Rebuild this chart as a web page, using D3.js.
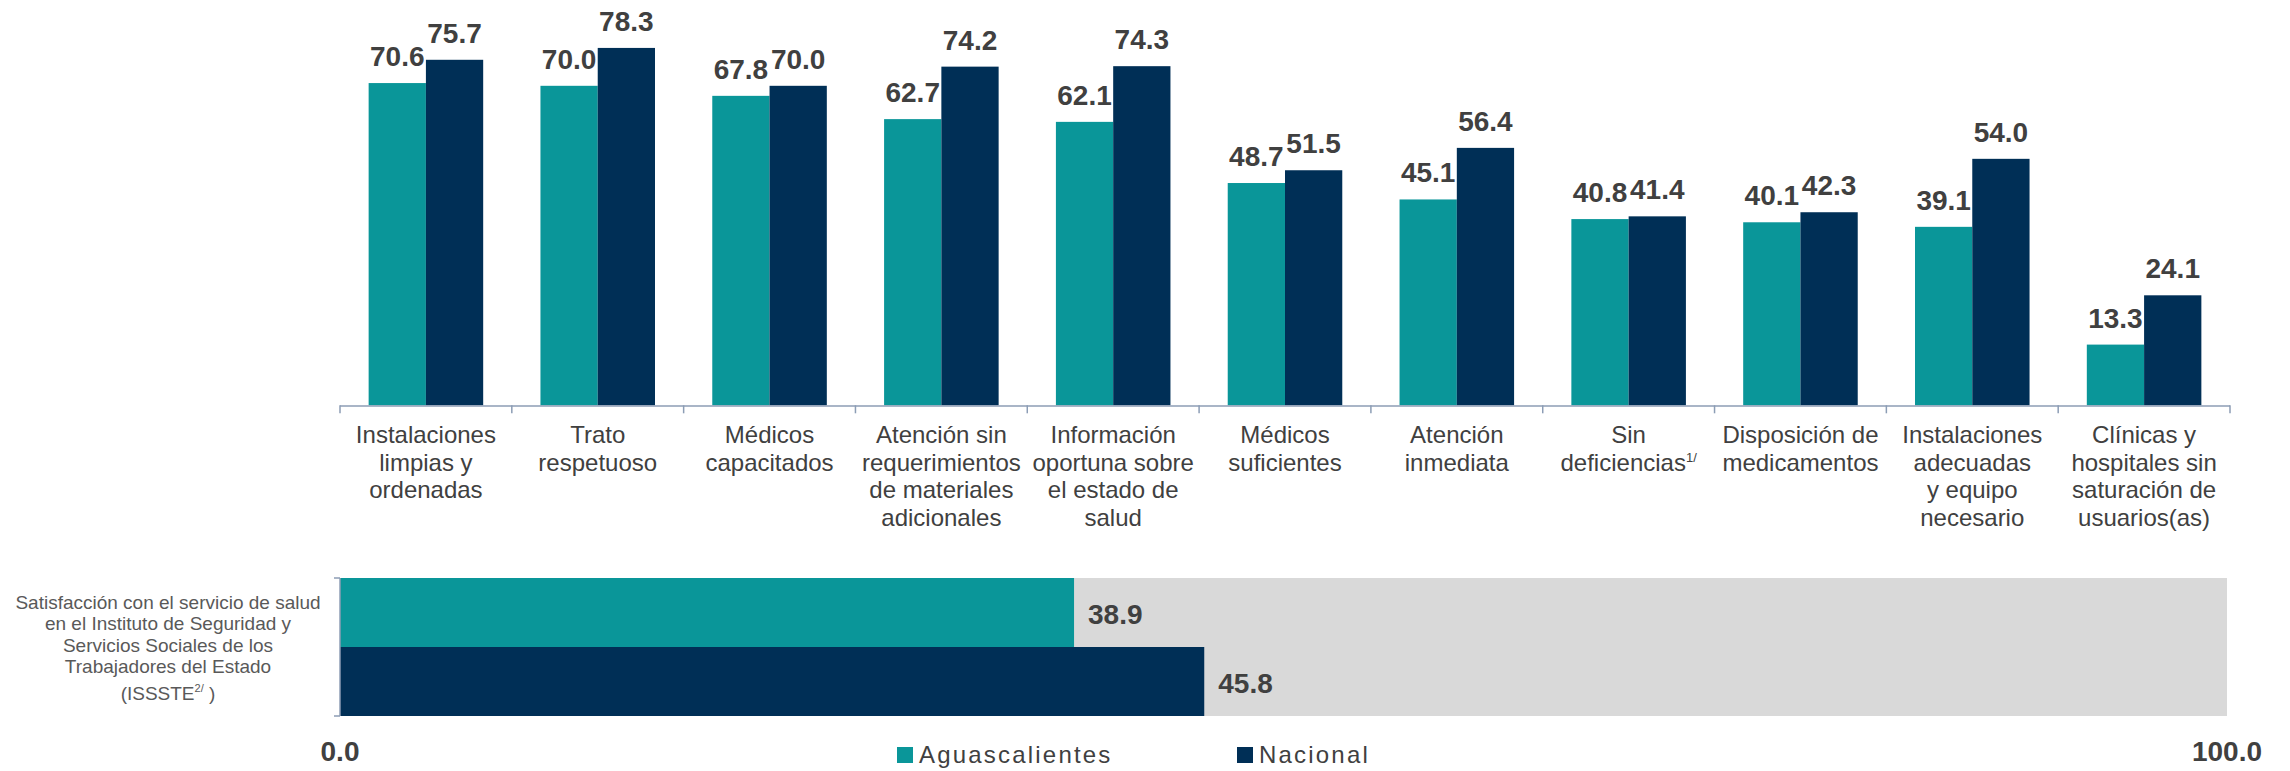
<!DOCTYPE html>
<html>
<head>
<meta charset="utf-8">
<script src="https://cdn.jsdelivr.net/npm/d3@7"></script>
<style>
  body { margin: 0; background: #fff; }
  text { font-family: "Liberation Sans", Arial, sans-serif; }
</style>
</head>
<body>
<svg id="chart" width="2290" height="771"></svg>
<script>
// Data
var categories = [
  ["Instalaciones", "limpias y", "ordenadas"],
  ["Trato", "respetuoso"],
  ["Médicos", "capacitados"],
  ["Atención sin", "requerimientos", "de materiales", "adicionales"],
  ["Información", "oportuna sobre", "el estado de", "salud"],
  ["Médicos", "suficientes"],
  ["Atención", "inmediata"],
  ["Sin", "deficiencias"],
  ["Disposición de", "medicamentos"],
  ["Instalaciones", "adecuadas", "y equipo", "necesario"],
  ["Clínicas y", "hospitales sin", "saturación de", "usuarios(as)"]
];
var series = ["Aguascalientes", "Nacional"];
var aguascalientes = [70.6, 70.0, 67.8, 62.7, 62.1, 48.7, 45.1, 40.8, 40.1, 39.1, 13.3];
var nacional       = [75.7, 78.3, 70.0, 74.2, 74.3, 51.5, 56.4, 41.4, 42.3, 54.0, 24.1];
var issteLabel = ["Satisfacción con el servicio de salud", "en el Instituto de Seguridad y",
                  "Servicios Sociales de los", "Trabajadores del Estado", "(ISSSTE"];
var issteValues = [38.9, 45.8];
var axisTicks = [0, 100];

var colors = { "Aguascalientes": "#0a9699", "Nacional": "#002f56" };
var textColor = "#404040";
var axisColor = "#8c9db5";

var svg = d3.select("#chart");

// ---- Top grouped bar chart ----
var idx = d3.range(categories.length);
var x0 = d3.scaleBand().domain(idx).range([340, 2230]).paddingInner(0).paddingOuter(0);
var x1 = d3.scaleBand().domain(series).range([0, x0.bandwidth()]).paddingInner(0).paddingOuter(0.5);
var y = d3.scaleLinear().domain([0, 88.8]).range([405.3, 0]);

var rows = idx.map(function(i) {
  return { i: i, values: [
    { s: "Aguascalientes", v: aguascalientes[i] },
    { s: "Nacional", v: nacional[i] }
  ]};
});

var groups = svg.append("g")
  .selectAll("g")
  .data(rows)
  .enter()
  .append("g")
    .attr("transform", function(d) { return "translate(" + x0(d.i) + ",0)"; });

groups.selectAll("rect")
  .data(function(d) { return d.values; })
  .enter()
  .append("rect")
    .attr("x", function(d) { return x1(d.s); })
    .attr("y", function(d) { return y(d.v); })
    .attr("width", x1.bandwidth())
    .attr("height", function(d) { return y(0) - y(d.v); })
    .attr("fill", function(d) { return colors[d.s]; });

groups.selectAll("text.val")
  .data(function(d) { return d.values; })
  .enter()
  .append("text")
    .attr("class", "val")
    .attr("x", function(d) { return x1(d.s) + x1.bandwidth() / 2; })
    .attr("y", function(d) { return y(d.v) - 17; })
    .attr("text-anchor", "middle")
    .style("font-size", "28px")
    .style("font-weight", "bold")
    .style("fill", textColor)
    .text(function(d) { return d.v.toFixed(1); });

// category axis
var xAxis = svg.append("g");
xAxis.append("line")
  .attr("x1", 340).attr("x2", 2230)
  .attr("y1", y(0) + 0.7).attr("y2", y(0) + 0.7)
  .attr("stroke", axisColor).attr("stroke-width", 1.5);
xAxis.selectAll("line.tick")
  .data(d3.range(categories.length + 1))
  .enter()
  .append("line")
    .attr("class", "tick")
    .attr("x1", function(d) { return 340 + d * x0.step(); })
    .attr("x2", function(d) { return 340 + d * x0.step(); })
    .attr("y1", y(0)).attr("y2", y(0) + 8)
    .attr("stroke", axisColor).attr("stroke-width", 1.5);

var catLabels = svg.append("g")
  .selectAll("text")
  .data(rows)
  .enter()
  .append("text")
    .attr("x", function(d) { return x0(d.i) + x0.bandwidth() / 2; })
    .attr("y", 443.3)
    .attr("text-anchor", "middle")
    .style("font-size", "24px")
    .style("fill", textColor);

catLabels.each(function(d) {
  var t = d3.select(this);
  categories[d.i].forEach(function(line, k) {
    t.append("tspan")
      .attr("x", x0(d.i) + x0.bandwidth() / 2)
      .attr("y", 443.3 + k * 27.5)
      .text(line);
  });
  if (d.i === 7) {
    t.select("tspan:last-child").append("tspan")
      .attr("dy", -9).style("font-size", "13px").text("1/");
  }
});

// ---- Bottom horizontal bars ----
var xs = d3.scaleLinear().domain([0, 100]).range([340, 2227]);
var ys = d3.scaleBand().domain(series).range([578, 716]);

svg.append("rect")
  .attr("x", xs(0)).attr("y", ys.range()[0])
  .attr("width", xs(100) - xs(0)).attr("height", ys.range()[1] - ys.range()[0])
  .attr("fill", "#d9d9d9");

var hb = series.map(function(s, i) { return { s: s, v: issteValues[i] }; });

svg.append("g")
  .selectAll("rect")
  .data(hb)
  .enter()
  .append("rect")
    .attr("x", xs(0))
    .attr("y", function(d) { return ys(d.s); })
    .attr("width", function(d) { return xs(d.v) - xs(0); })
    .attr("height", ys.bandwidth())
    .attr("fill", function(d) { return colors[d.s]; });

svg.append("g")
  .selectAll("text")
  .data(hb)
  .enter()
  .append("text")
    .attr("x", function(d) { return xs(d.v) + 14; })
    .attr("y", function(d) { return ys(d.s) + ys.bandwidth() / 2 + 11; })
    .style("font-size", "28px")
    .style("font-weight", "bold")
    .style("fill", textColor)
    .text(function(d) { return d.v.toFixed(1); });

// vertical axis of the bottom bars
var yAxis = svg.append("g");
yAxis.append("line")
  .attr("x1", 340).attr("x2", 340)
  .attr("y1", 578).attr("y2", 716)
  .attr("stroke", axisColor).attr("stroke-width", 1.5);
yAxis.selectAll("line.tick")
  .data(ys.range())
  .enter()
  .append("line")
    .attr("x1", 334).attr("x2", 340)
    .attr("y1", function(d) { return d; }).attr("y2", function(d) { return d; })
    .attr("stroke", axisColor).attr("stroke-width", 1.5);

// axis tick labels 0.0 / 100.0
svg.append("g")
  .selectAll("text")
  .data(axisTicks)
  .enter()
  .append("text")
    .attr("x", function(d) { return xs(d); })
    .attr("y", 761)
    .attr("text-anchor", "middle")
    .style("font-size", "28px")
    .style("font-weight", "bold")
    .style("fill", textColor)
    .text(function(d) { return d.toFixed(1); });

// row label
var lbl = svg.append("text")
  .attr("text-anchor", "middle")
  .style("font-size", "19px")
  .style("fill", "#595959");
issteLabel.forEach(function(line, k) {
  var ts = lbl.append("tspan")
    .attr("x", 168)
    .attr("y", k < 4 ? 609 + k * 21.4 : 700)
    .text(line);
  if (k === 4) {
    lbl.append("tspan").attr("dy", -8).style("font-size", "11px").text("2/");
    lbl.append("tspan").attr("dy", 8).text(" )");
  }
});

// ---- Legend ----
var legendX = [897, 1237];
var legend = svg.append("g")
  .selectAll("g")
  .data(series)
  .enter()
  .append("g")
    .attr("transform", function(d, i) { return "translate(" + legendX[i] + ",0)"; });

legend.append("rect")
  .attr("x", 0).attr("y", 747)
  .attr("width", 16).attr("height", 16)
  .attr("fill", function(d) { return colors[d]; });

legend.append("text")
  .attr("x", 22).attr("y", 763)
  .style("font-size", "24px")
  .style("letter-spacing", "2.2px")
  .style("fill", textColor)
  .text(function(d) { return d; });
</script>
</body>
</html>
